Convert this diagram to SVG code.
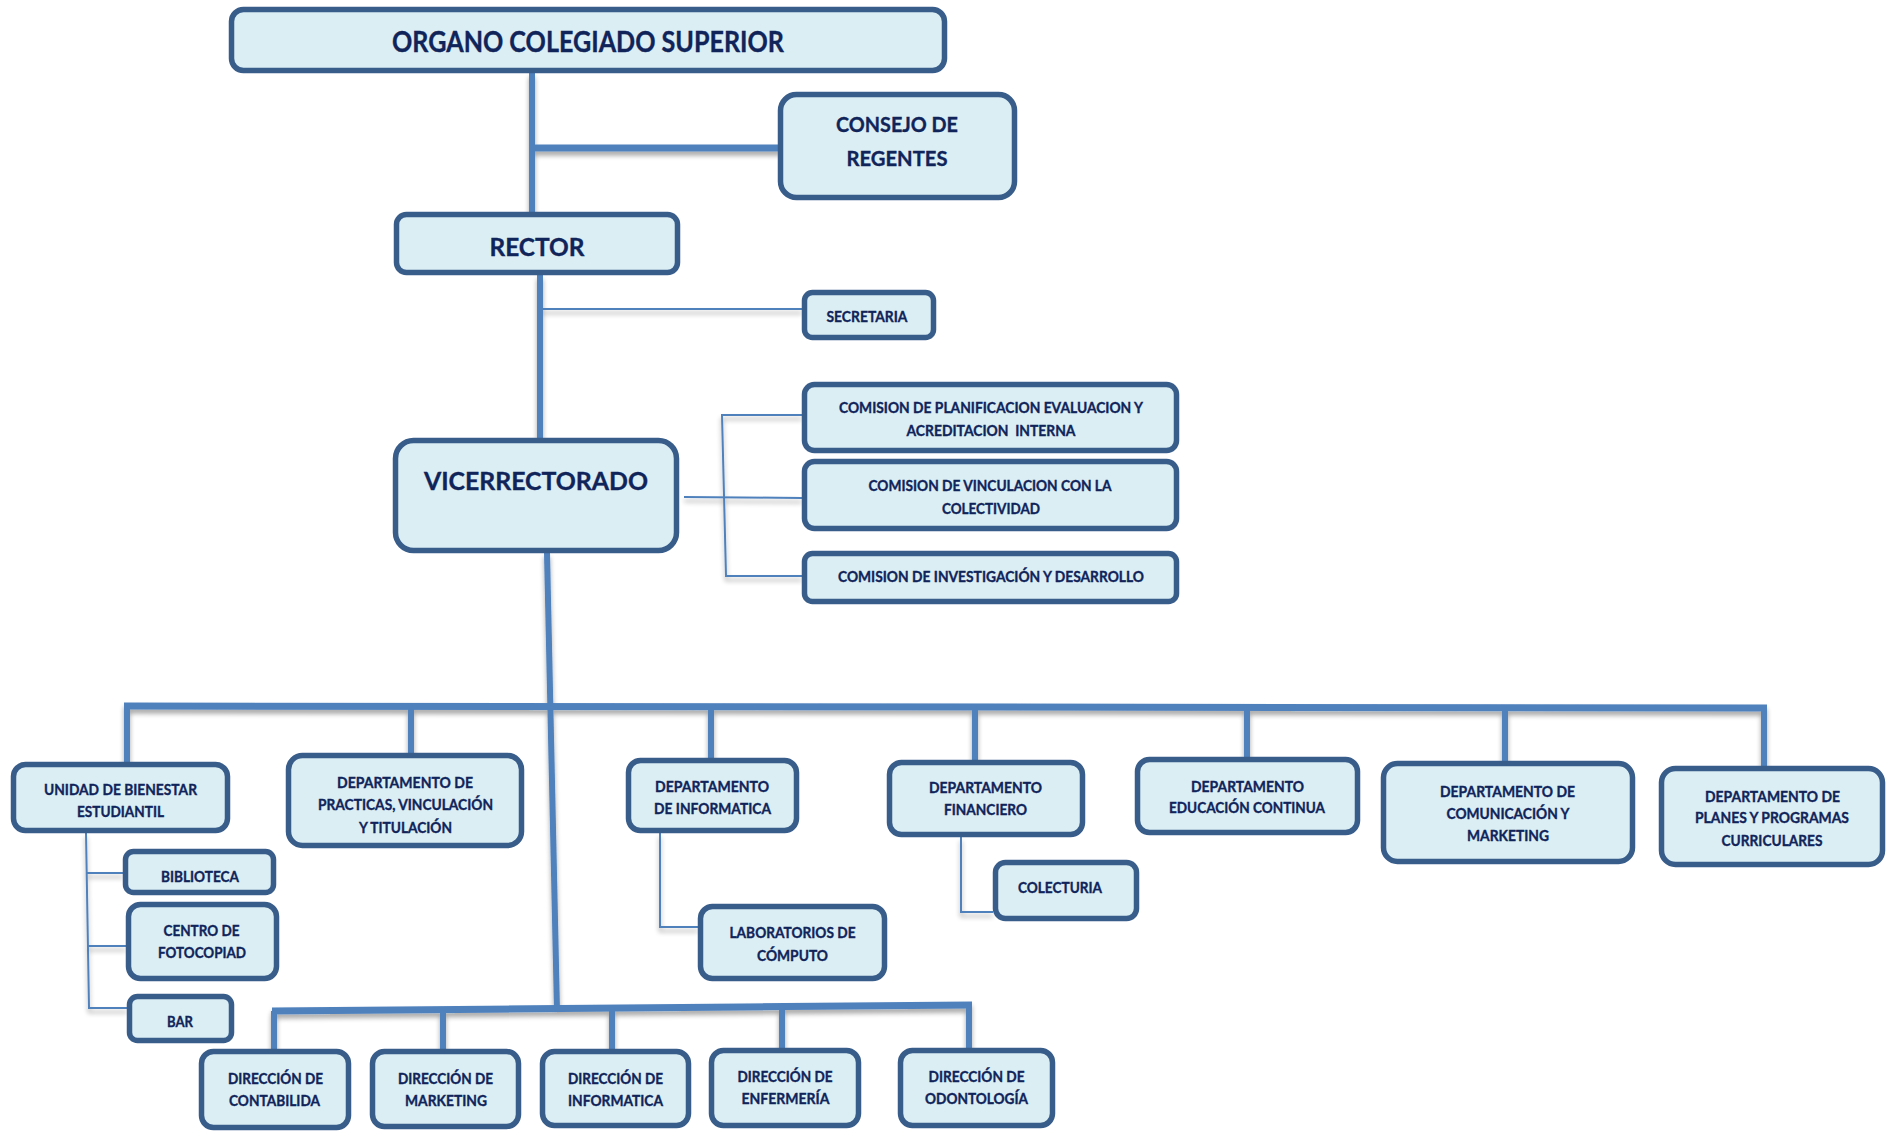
<svg xmlns="http://www.w3.org/2000/svg" width="1902" height="1135" viewBox="0 0 1902 1135">
<style>
.box{fill:#DBEEF4;stroke:#385D8A;stroke-width:5.5}
.t{font-family:Lato,"Liberation Sans",sans-serif;font-weight:bold;fill:#10245A;stroke:#10245A;stroke-width:0.35;text-anchor:middle}
.s15{font-size:15px}
.thick{stroke:#4F81BD;stroke-width:7;fill:none}
.mid{stroke:#4F81BD;stroke-width:6;fill:none}
.thin{stroke:#4F81BD;stroke-width:2;fill:none}
</style>
<defs>
<filter id="sh" x="-5%" y="-5%" width="110%" height="120%">
<feGaussianBlur in="SourceAlpha" stdDeviation="2.5"/>
<feOffset dx="0" dy="4" result="b"/>
<feComponentTransfer><feFuncA type="linear" slope="0.35"/></feComponentTransfer>
<feMerge><feMergeNode/><feMergeNode in="SourceGraphic"/></feMerge>
</filter>
</defs>
<g id="connectors" filter="url(#sh)">
<line class="mid" x1="532" y1="73" x2="532" y2="214"/>
<line class="thick" x1="532" y1="148" x2="781" y2="148"/>
<line class="mid" x1="540" y1="275" x2="540" y2="440"/>
<line class="thin" x1="540" y1="309" x2="802" y2="309"/>
<line class="thin" x1="684" y1="497" x2="802" y2="498"/>
<polyline class="thin" points="802,415 722,415 726,576 802,576"/>
<line class="mid" x1="547" y1="553" x2="557" y2="1011"/>
<line class="thick" x1="124" y1="706" x2="1767" y2="708"/>
<line class="mid" x1="127" y1="706" x2="127" y2="762"/>
<line class="mid" x1="411" y1="706" x2="411" y2="753"/>
<line class="mid" x1="711" y1="707" x2="711" y2="758"/>
<line class="mid" x1="975" y1="707" x2="975" y2="760"/>
<line class="mid" x1="1247" y1="707" x2="1247" y2="757"/>
<line class="mid" x1="1505" y1="708" x2="1505" y2="761"/>
<line class="mid" x1="1764" y1="708" x2="1764" y2="766"/>
<polyline class="thin" points="86,833 89,1008 127,1008"/>
<line class="thin" x1="87" y1="873" x2="123" y2="873"/>
<line class="thin" x1="88" y1="946" x2="126" y2="946"/>
<polyline class="thin" points="660,833 660,927 698,927"/>
<polyline class="thin" points="961,837 961,912 993,912"/>
<line class="thick" x1="272" y1="1011" x2="972" y2="1005"/>
<line class="mid" x1="274" y1="1011" x2="274" y2="1050"/>
<line class="mid" x1="443" y1="1010" x2="443" y2="1050"/>
<line class="mid" x1="612" y1="1008" x2="612" y2="1050"/>
<line class="mid" x1="782" y1="1007" x2="782" y2="1049"/>
<line class="mid" x1="969" y1="1005" x2="969" y2="1049"/>
</g>
<g id="organo"><rect class="box" x="231.5" y="9.5" width="713" height="61" rx="12"/><text class="t" x="588" y="52" font-size="28" textLength="392" lengthAdjust="spacingAndGlyphs">ORGANO COLEGIADO SUPERIOR</text></g>
<g id="consejo"><rect class="box" x="780.5" y="94.5" width="234" height="103" rx="16"/><text class="t" x="897" y="132" font-size="21" textLength="122" lengthAdjust="spacingAndGlyphs">CONSEJO DE</text><text class="t" x="897" y="166" font-size="21" textLength="101" lengthAdjust="spacingAndGlyphs">REGENTES</text></g>
<g id="rector"><rect class="box" x="396.5" y="214.5" width="281" height="58" rx="10"/><text class="t" x="537" y="256" font-size="25" textLength="95" lengthAdjust="spacingAndGlyphs">RECTOR</text></g>
<g id="secretaria"><rect class="box" x="804.5" y="292.5" width="129" height="45" rx="8"/><text class="t" x="867" y="322" font-size="16" textLength="81" lengthAdjust="spacingAndGlyphs">SECRETARIA</text></g>
<g id="vicerrectorado"><rect class="box" x="395.5" y="440.5" width="281" height="110" rx="18"/><text class="t" x="536" y="490" font-size="25" textLength="224" lengthAdjust="spacingAndGlyphs">VICERRECTORADO</text></g>
<g id="com1"><rect class="box" x="804.5" y="384.5" width="372" height="66" rx="10"/><text class="t s15" x="991" y="413" textLength="304" lengthAdjust="spacingAndGlyphs">COMISION DE PLANIFICACION EVALUACION Y</text><text class="t s15" x="991" y="436" textLength="169" lengthAdjust="spacingAndGlyphs" xml:space="preserve">ACREDITACION  INTERNA</text></g>
<g id="com2"><rect class="box" x="804.5" y="461.5" width="372" height="67" rx="10"/><text class="t s15" x="990" y="491" textLength="243" lengthAdjust="spacingAndGlyphs">COMISION DE VINCULACION CON LA</text><text class="t s15" x="991" y="514" textLength="98" lengthAdjust="spacingAndGlyphs">COLECTIVIDAD</text></g>
<g id="com3"><rect class="box" x="804.5" y="553.5" width="372" height="48" rx="8"/><text class="t s15" x="991" y="582" textLength="306" lengthAdjust="spacingAndGlyphs">COMISION DE INVESTIGACIÓN Y DESARROLLO</text></g>
<g id="unidad"><rect class="box" x="13.5" y="764.5" width="214" height="66" rx="12"/><text class="t s15" x="120.5" y="794.5" textLength="153" lengthAdjust="spacingAndGlyphs">UNIDAD DE BIENESTAR</text><text class="t s15" x="120.5" y="816.5" textLength="87" lengthAdjust="spacingAndGlyphs">ESTUDIANTIL</text></g>
<g id="practicas"><rect class="box" x="288.5" y="755.5" width="233" height="90" rx="14"/><text class="t s15" x="405" y="787.5" textLength="136" lengthAdjust="spacingAndGlyphs">DEPARTAMENTO DE</text><text class="t s15" x="405.5" y="809.5" textLength="175" lengthAdjust="spacingAndGlyphs">PRACTICAS, VINCULACIÓN</text><text class="t s15" x="405.5" y="832.5" textLength="93" lengthAdjust="spacingAndGlyphs">Y TITULACIÓN</text></g>
<g id="informatica"><rect class="box" x="628.5" y="760.5" width="168" height="70" rx="12"/><text class="t s15" x="712" y="791.5" textLength="114" lengthAdjust="spacingAndGlyphs">DEPARTAMENTO</text><text class="t s15" x="712.5" y="813.5" textLength="117" lengthAdjust="spacingAndGlyphs">DE INFORMATICA</text></g>
<g id="financiero"><rect class="box" x="889.5" y="762.5" width="193" height="72" rx="12"/><text class="t s15" x="985.5" y="792.5" textLength="113" lengthAdjust="spacingAndGlyphs">DEPARTAMENTO</text><text class="t s15" x="985.5" y="814.5" textLength="83" lengthAdjust="spacingAndGlyphs">FINANCIERO</text></g>
<g id="educacion"><rect class="box" x="1137.5" y="759.5" width="220" height="73" rx="12"/><text class="t s15" x="1247.5" y="791.5" textLength="113" lengthAdjust="spacingAndGlyphs">DEPARTAMENTO</text><text class="t s15" x="1247" y="812.5" textLength="156" lengthAdjust="spacingAndGlyphs">EDUCACIÓN CONTINUA</text></g>
<g id="comunicacion"><rect class="box" x="1383.5" y="763.5" width="249" height="98" rx="14"/><text class="t s15" x="1507.5" y="796.5" textLength="135" lengthAdjust="spacingAndGlyphs">DEPARTAMENTO DE</text><text class="t s15" x="1508" y="818.5" textLength="123" lengthAdjust="spacingAndGlyphs">COMUNICACIÓN Y</text><text class="t s15" x="1508" y="840.5" textLength="82" lengthAdjust="spacingAndGlyphs">MARKETING</text></g>
<g id="planes"><rect class="box" x="1661.5" y="768.5" width="221" height="96" rx="14"/><text class="t s15" x="1772.5" y="801.5" textLength="135" lengthAdjust="spacingAndGlyphs">DEPARTAMENTO DE</text><text class="t s15" x="1772" y="822.5" textLength="154" lengthAdjust="spacingAndGlyphs">PLANES Y PROGRAMAS</text><text class="t s15" x="1772" y="845.5" textLength="101" lengthAdjust="spacingAndGlyphs">CURRICULARES</text></g>
<g id="biblioteca"><rect class="box" x="125.5" y="851.5" width="148" height="41" rx="8"/><text class="t s15" x="200" y="881.5" textLength="78" lengthAdjust="spacingAndGlyphs">BIBLIOTECA</text></g>
<g id="fotocopiad"><rect class="box" x="128.5" y="904.5" width="148" height="74" rx="12"/><text class="t s15" x="201.5" y="935.5" textLength="76" lengthAdjust="spacingAndGlyphs">CENTRO DE</text><text class="t s15" x="202" y="957.5" textLength="88" lengthAdjust="spacingAndGlyphs">FOTOCOPIAD</text></g>
<g id="bar"><rect class="box" x="129.5" y="996.5" width="102" height="44" rx="8"/><text class="t s15" x="180" y="1026.5" textLength="26" lengthAdjust="spacingAndGlyphs">BAR</text></g>
<g id="laboratorios"><rect class="box" x="700.5" y="906.5" width="184" height="72" rx="12"/><text class="t s15" x="792.5" y="937.5" textLength="126" lengthAdjust="spacingAndGlyphs">LABORATORIOS DE</text><text class="t s15" x="792.5" y="960.5" textLength="71" lengthAdjust="spacingAndGlyphs">CÓMPUTO</text></g>
<g id="colecturia"><rect class="box" x="995.5" y="862.5" width="141" height="56" rx="10"/><text class="t s15" x="1060" y="892.5" textLength="84" lengthAdjust="spacingAndGlyphs">COLECTURIA</text></g>
<g id="dir-contabilidad"><rect class="box" x="201.5" y="1051.5" width="147" height="76" rx="12"/><text class="t s15" x="275.5" y="1083.5" textLength="95" lengthAdjust="spacingAndGlyphs">DIRECCIÓN DE</text><text class="t s15" x="274.5" y="1105.5" textLength="91" lengthAdjust="spacingAndGlyphs">CONTABILIDA</text></g>
<g id="dir-marketing"><rect class="box" x="372.5" y="1051.5" width="146" height="75" rx="12"/><text class="t s15" x="445.5" y="1083.5" textLength="95" lengthAdjust="spacingAndGlyphs">DIRECCIÓN DE</text><text class="t s15" x="446" y="1105.5" textLength="82" lengthAdjust="spacingAndGlyphs">MARKETING</text></g>
<g id="dir-informatica"><rect class="box" x="542.5" y="1051.5" width="146" height="74" rx="12"/><text class="t s15" x="615.5" y="1083.5" textLength="95" lengthAdjust="spacingAndGlyphs">DIRECCIÓN DE</text><text class="t s15" x="615.5" y="1105.5" textLength="95" lengthAdjust="spacingAndGlyphs">INFORMATICA</text></g>
<g id="dir-enfermeria"><rect class="box" x="711.5" y="1050.5" width="147" height="75" rx="12"/><text class="t s15" x="785" y="1081.5" textLength="95" lengthAdjust="spacingAndGlyphs">DIRECCIÓN DE</text><text class="t s15" x="785.5" y="1103.5" textLength="88" lengthAdjust="spacingAndGlyphs">ENFERMERÍA</text></g>
<g id="dir-odontologia"><rect class="box" x="900.5" y="1050.5" width="152" height="75" rx="12"/><text class="t s15" x="976.5" y="1081.5" textLength="96" lengthAdjust="spacingAndGlyphs">DIRECCIÓN DE</text><text class="t s15" x="976.5" y="1103.5" textLength="103" lengthAdjust="spacingAndGlyphs">ODONTOLOGÍA</text></g>
</svg>
